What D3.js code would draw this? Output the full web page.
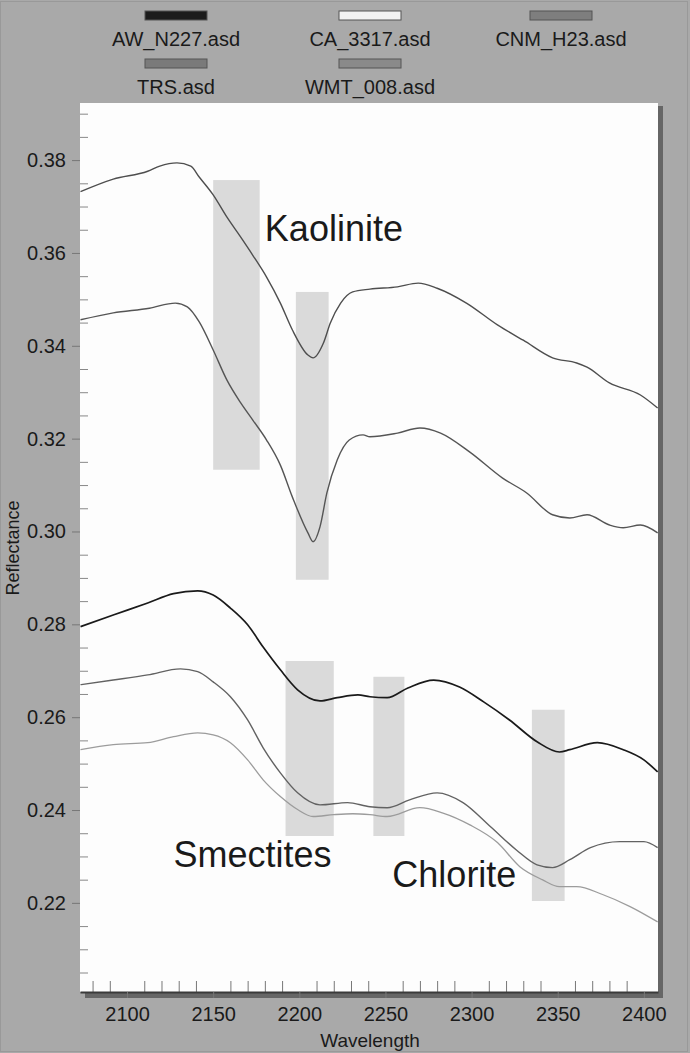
<!DOCTYPE html>
<html>
<head>
<meta charset="utf-8">
<script src="https://cdn.jsdelivr.net/npm/d3@7"></script>
<style>
  body { margin: 0; background: #a9a9a9; }
  svg { display: block; font-family: "Liberation Sans", Arial, sans-serif; }
</style>
</head>
<body>
<svg id="chart"></svg>
<script>
// spectra (wavelength nm / reflectance)
var cnmWl = [2073, 2092, 2112, 2119, 2129, 2137, 2142, 2150, 2158, 2166, 2173, 2181, 2189, 2196, 2205, 2208, 2214, 2218, 2224, 2231, 2241, 2257, 2269, 2280, 2297, 2315, 2330, 2347, 2361, 2367, 2380, 2398, 2408]
var cnmR = [0.3732, 0.3759, 0.3776, 0.3787, 0.3794, 0.3787, 0.3763, 0.3725, 0.3677, 0.3634, 0.3595, 0.3548, 0.3492, 0.3434, 0.3380, 0.3374, 0.3406, 0.3449, 0.3492, 0.3516, 0.3522, 0.3527, 0.3535, 0.3524, 0.3492, 0.3445, 0.3412, 0.3374, 0.3363, 0.3354, 0.3320, 0.3294, 0.3266]

var trsWl = [2073, 2092, 2113, 2128, 2135, 2142, 2150, 2158, 2166, 2173, 2181, 2189, 2196, 2205, 2208, 2212, 2216, 2222, 2229, 2237, 2241, 2257, 2270, 2282, 2299, 2318, 2332, 2347, 2357, 2367, 2380, 2388, 2398, 2408]
var trsR = [0.3456, 0.3471, 0.3481, 0.3492, 0.3484, 0.3451, 0.3391, 0.3326, 0.3277, 0.3240, 0.3197, 0.3143, 0.3074, 0.2997, 0.2978, 0.3010, 0.3083, 0.3154, 0.3197, 0.3208, 0.3204, 0.3212, 0.3223, 0.3212, 0.3171, 0.3115, 0.3083, 0.3036, 0.3029, 0.3036, 0.3014, 0.3008, 0.3014, 0.2997]

var awWl = [2073, 2092, 2112, 2127, 2141, 2150, 2160, 2170, 2179, 2189, 2199, 2212, 2222, 2234, 2241, 2251, 2263, 2278, 2293, 2307, 2322, 2338, 2351, 2357, 2373, 2388, 2400, 2408]
var awR = [0.2795, 0.2820, 0.2846, 0.2866, 0.2872, 0.2863, 0.2835, 0.2799, 0.2751, 0.2702, 0.2659, 0.2635, 0.2642, 0.2648, 0.2644, 0.2642, 0.2663, 0.2680, 0.2665, 0.2633, 0.2594, 0.2547, 0.2525, 0.2530, 0.2545, 0.2530, 0.2508, 0.2482]

var wmtWl = [2073, 2092, 2112, 2131, 2141, 2150, 2160, 2170, 2179, 2189, 2199, 2212, 2228, 2241, 2251, 2264, 2280, 2295, 2311, 2326, 2338, 2347, 2357, 2369, 2386, 2400, 2408]
var wmtR = [0.2670, 0.2680, 0.2691, 0.2704, 0.2698, 0.2676, 0.2644, 0.2594, 0.2534, 0.2480, 0.2437, 0.2411, 0.2416, 0.2407, 0.2405, 0.2422, 0.2437, 0.2416, 0.2364, 0.2314, 0.2282, 0.2276, 0.2293, 0.2319, 0.2332, 0.2332, 0.2319]

var caWl = [2073, 2092, 2112, 2127, 2141, 2150, 2160, 2170, 2179, 2189, 2199, 2208, 2220, 2231, 2241, 2251, 2270, 2283, 2299, 2315, 2328, 2341, 2351, 2361, 2376, 2392, 2408]
var caR = [0.2530, 0.2541, 0.2545, 0.2558, 0.2566, 0.2562, 0.2545, 0.2508, 0.2465, 0.2429, 0.2401, 0.2386, 0.2390, 0.2392, 0.2390, 0.2386, 0.2405, 0.2394, 0.2368, 0.2330, 0.2278, 0.2250, 0.2235, 0.2235, 0.2218, 0.2192, 0.2159]

// legend entries, in the order of the figure
var legendNames = ['AW_N227.asd', 'CA_3317.asd', 'CNM_H23.asd', 'TRS.asd', 'WMT_008.asd']

// absorption bands: [from nm, to nm, low, high]
var bands = [
  [2150, 2177, 0.3133, 0.3757],
  [2198, 2217, 0.2896, 0.3516],
  [2192, 2220, 0.2344, 0.2721],
  [2243, 2261, 0.2344, 0.2687],
  [2335, 2354, 0.2204, 0.2616]
]
var bandLabels = ['Kaolinite', 'Smectites', 'Chlorite']
var bandLabelAt = [[2180, 0.3626], [2127, 0.2278], [2254, 0.2235]]

var xTicks = [2100, 2150, 2200, 2250, 2300, 2350, 2400]
var yTicks = [0.22, 0.24, 0.26, 0.28, 0.30, 0.32, 0.34, 0.36, 0.38]

var W = 690, H = 1053
var plot = {left: 80, right: 658, top: 103, bottom: 992}

var svg = d3.select('#chart').attr('width', W).attr('height', H)

svg.append('rect').attr('width', W).attr('height', H).attr('fill', '#a9a9a9')
svg.append('rect').attr('x', 0.5).attr('y', 1.5).attr('width', W - 3).attr('height', H - 3)
  .attr('fill', 'none').attr('stroke', '#999').attr('stroke-width', 1)

var x = d3.scaleLinear().domain([2072.7, 2408.2]).range([plot.left, plot.right])
var y = d3.scaleLinear().domain([0.2008, 0.3923]).range([plot.bottom, plot.top])

// frame with its drop shadow
svg.append('rect')
  .attr('x', plot.left + 5).attr('y', plot.top + 3)
  .attr('width', plot.right - plot.left).attr('height', plot.bottom - plot.top + 3)
  .attr('fill', '#666')
svg.append('rect')
  .attr('x', plot.left).attr('y', plot.top)
  .attr('width', plot.right - plot.left).attr('height', plot.bottom - plot.top)
  .attr('fill', '#fdfdfd')

// shaded bands
svg.selectAll('.band')
    .data(bands)
  .enter().append('rect')
    .attr('class', 'band')
    .attr('x', function (d) { return x(d[0]) })
    .attr('width', function (d) { return x(d[1]) - x(d[0]) })
    .attr('y', function (d) { return y(d[3]) })
    .attr('height', function (d) { return y(d[2]) - y(d[3]) })
    .attr('fill', '#dadada')

// spectra
var series = [
  {wl: cnmWl, r: cnmR, color: '#4e4e4e', width: 1.4},
  {wl: trsWl, r: trsR, color: '#555', width: 1.4},
  {wl: awWl, r: awR, color: '#1a1a1a', width: 1.7},
  {wl: wmtWl, r: wmtR, color: '#626262', width: 1.4},
  {wl: caWl, r: caR, color: '#9c9c9c', width: 1.3}
]

var line = d3.line()
  .x(function (d) { return x(d[0]) })
  .y(function (d) { return y(d[1]) })
  .curve(d3.curveMonotoneX)

series.forEach(function (s) {
  svg.append('path')
    .datum(d3.zip(s.wl, s.r))
    .attr('fill', 'none')
    .attr('stroke', s.color)
    .attr('stroke-width', s.width)
    .attr('d', line)
})

// band labels
svg.selectAll('.band-label')
    .data(bandLabels)
  .enter().append('text')
    .attr('class', 'band-label')
    .attr('x', function (d, i) { return x(bandLabelAt[i][0]) })
    .attr('y', function (d, i) { return y(bandLabelAt[i][1]) })
    .attr('font-size', 36)
    .attr('fill', '#1a1a1a')
    .text(function (d) { return d })

// x axis: labelled ticks outside, every 10 nm inside
var minorX = d3.range(2080, 2401, 10).filter(function (d) { return d % 50 !== 0 })
svg.append('g')
    .attr('transform', 'translate(0,' + plot.bottom + ')')
    .call(d3.axisBottom(x).tickValues(minorX).tickSize(-11).tickFormat(''))
    .call(function (g) { g.select('.domain').remove() })
    .selectAll('line').attr('stroke', '#777')

var xAxis = svg.append('g')
    .attr('transform', 'translate(0,' + plot.bottom + ')')
    .call(d3.axisBottom(x).tickValues(xTicks).tickSize(6).tickSizeOuter(0).tickFormat(d3.format('d')))
xAxis.select('.domain').attr('stroke', '#3a3a3a').attr('stroke-width', 2)
xAxis.selectAll('line').attr('stroke', '#777')
xAxis.selectAll('text')
    .attr('y', 15)
    .attr('font-size', 20)
    .attr('font-family', 'Liberation Sans, Arial, sans-serif')
    .attr('fill', '#1a1a1a')

// y axis
var minorY = d3.range(0.205, 0.3901, 0.005).filter(function (d) {
  return Math.abs(Math.round(d * 50) - d * 50) > 0.01
})
svg.append('g')
    .attr('transform', 'translate(' + plot.left + ',0)')
    .call(d3.axisLeft(y).tickValues(minorY).tickSize(-8).tickFormat(''))
    .call(function (g) { g.select('.domain').remove() })
    .selectAll('line').attr('stroke', '#888')

var yAxis = svg.append('g')
    .attr('transform', 'translate(' + plot.left + ',0)')
    .call(d3.axisLeft(y).tickValues(yTicks).tickSize(8).tickFormat(d3.format('.2f')))
yAxis.select('.domain').remove()
yAxis.selectAll('line').attr('stroke', '#777')
yAxis.selectAll('text')
    .attr('x', -14)
    .attr('font-size', 20)
    .attr('font-family', 'Liberation Sans, Arial, sans-serif')
    .attr('fill', '#1a1a1a')

// axis titles
svg.append('text')
    .attr('x', (plot.left + plot.right) / 2 + 1)
    .attr('y', 1047)
    .attr('text-anchor', 'middle')
    .attr('font-size', 19)
    .attr('fill', '#1a1a1a')
    .text('Wavelength')

svg.append('text')
    .attr('transform', 'translate(19,548) rotate(-90)')
    .attr('text-anchor', 'middle')
    .attr('font-size', 18)
    .attr('fill', '#1a1a1a')
    .text('Reflectance')

// legend, two rows of three
var swatchColors = ['#1c1c1c', '#f2f2f2', '#7e7e7e', '#7a7a7a', '#8a8a8a']
var legendX = [176, 370, 561]
var legendRowY = [11, 59]

var item = svg.selectAll('.legend')
    .data(legendNames)
  .enter().append('g')
    .attr('class', 'legend')
    .attr('transform', function (d, i) {
      return 'translate(' + legendX[i % 3] + ',' + legendRowY[Math.floor(i / 3)] + ')'
    })

item.append('rect')
    .attr('x', -31).attr('width', 62).attr('height', 9)
    .attr('fill', function (d, i) { return swatchColors[i] })
    .attr('stroke', '#555').attr('stroke-width', 1)

item.append('text')
    .attr('y', 35)
    .attr('text-anchor', 'middle')
    .attr('font-size', 20)
    .attr('fill', '#1a1a1a')
    .text(function (d) { return d })
</script>
</body>
</html>
